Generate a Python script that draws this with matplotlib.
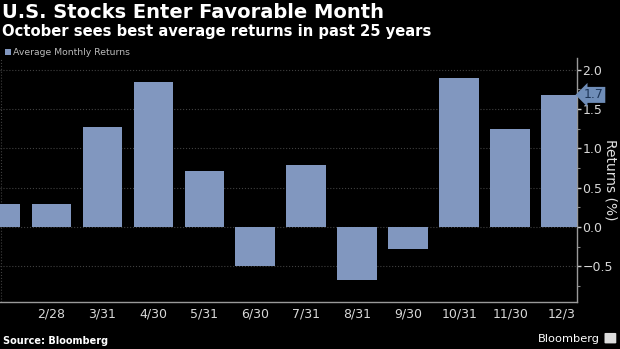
import matplotlib
matplotlib.use('Agg')
import matplotlib.pyplot as plt
from matplotlib.ticker import MultipleLocator
from matplotlib.patches import FancyBboxPatch

# average monthly returns (%) over past 25 years, by month end
months = [1, 2, 3, 4, 5, 6, 7, 8, 9, 10, 11, 12]
returns = [0.29, 0.29, 1.27, 1.84, 0.71, -0.50, 0.79, -0.68, -0.28, 1.89, 1.24, 1.68]
tick_pos = [2, 3, 4, 5, 6, 7, 8, 9, 10, 11, 12]
tick_labels = ['2/28', '3/31', '4/30', '5/31', '6/30', '7/31', '8/31', '9/30',
               '10/31', '11/30', '12/3']
last_label = '1.7'

bar_color = '#8197BF'
plt.rcParams['font.family'] = ['DejaVu Sans']

fig = plt.figure(figsize=(6.2, 3.49), dpi=100, facecolor='black')
ax = fig.add_axes([0.0, 0.1355, 0.9306, 0.6985], facecolor='black')

ax.bar(months, returns, width=0.78, color=bar_color, zorder=3)
ax.set_xlim(0.99, 12.31)
ax.set_ylim(-0.95, 2.15)

# grid
ax.set_xticks(months, minor=True)
ax.grid(True, which='minor', axis='x', color='#404040', linestyle=':', linewidth=0.8, zorder=0)
ax.yaxis.set_major_locator(MultipleLocator(0.5))
ax.yaxis.set_minor_locator(MultipleLocator(0.25))
ax.grid(True, which='major', axis='y', color='#404040', linestyle=':', linewidth=0.8, zorder=0)

ax.set_xticks(tick_pos)
ax.set_xticklabels(tick_labels, fontsize=9, color='#d8d8d8')
ax.tick_params(axis='x', which='both', length=0, pad=4)

ax.yaxis.tick_right()
ax.yaxis.set_label_position('right')
ax.tick_params(axis='y', which='major', length=3, width=1, color='#cccccc',
               labelcolor='#d8d8d8', labelsize=9, pad=1)
ax.tick_params(axis='y', which='minor', length=2, width=0.8, color='#888888')
ax.set_ylabel('Returns (%)', rotation=270, labelpad=3, color='#e0e0e0',
              fontsize=10)

for s in ['top', 'left']:
    ax.spines[s].set_visible(False)
for s in ['right', 'bottom']:
    ax.spines[s].set_color('#9a9a9a')
    ax.spines[s].set_linewidth(1)

# last value label
ax.annotate(last_label, xy=(1.0, returns[-1]), xycoords=('axes fraction', 'data'),
            xytext=(5, 0), textcoords='offset points', ha='left', va='center',
            fontsize=9, color='#1d3557', annotation_clip=False,
            bbox=dict(boxstyle='larrow,pad=0.12', fc='#6f8db8', ec='none'))

# titles
fig.text(0.003, 0.99, 'U.S. Stocks Enter Favorable Month', color='white',
         fontsize=14, fontweight='bold', va='top', ha='left')
fig.text(0.003, 0.93, 'October sees best average returns in past 25 years', color='white',
         fontsize=10.6, fontweight='bold', va='top', ha='left')

# legend
fig.patches.append(FancyBboxPatch((0.008, 0.843), 0.009, 0.016, boxstyle='square,pad=0',
                                  transform=fig.transFigure, fc=bar_color, ec='none'))
fig.text(0.021, 0.851, 'Average Monthly Returns', color='#bbbbbb', fontsize=6.7,
         va='center', ha='left')

# footer
fig.text(0.005, 0.008, 'Source: Bloomberg', color='white', fontsize=7,
         fontweight='bold', va='bottom', ha='left')
fig.text(0.968, 0.015, 'Bloomberg', color='white', fontsize=8.2,
         va='bottom', ha='right')
fig.patches.append(FancyBboxPatch((0.977, 0.018), 0.015, 0.026, boxstyle='round,pad=0.002',
                                  transform=fig.transFigure, fc='#dddddd', ec='none'))

fig.savefig('out.png', dpi=100, facecolor='black')
